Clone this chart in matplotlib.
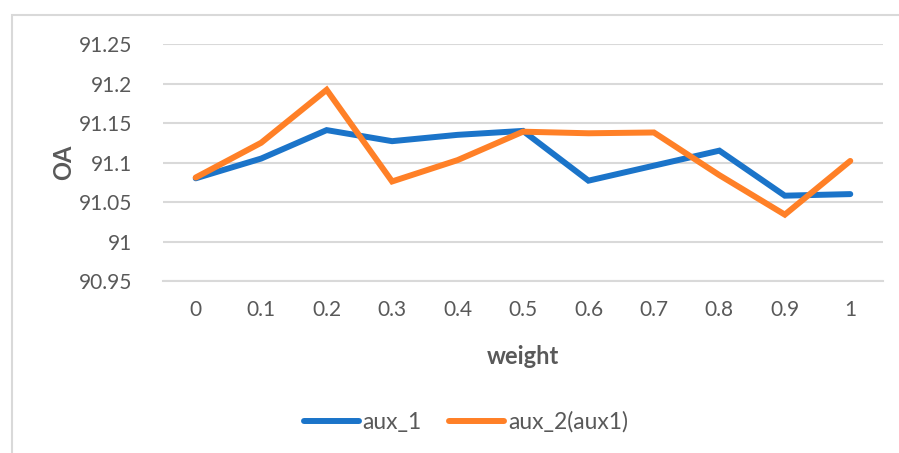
import matplotlib.pyplot as plt
from matplotlib.patches import Rectangle

# weight values on the x axis (categorical)
weights = ["0", "0.1", "0.2", "0.3", "0.4", "0.5", "0.6", "0.7", "0.8", "0.9", "1"]

# overall accuracy per weight
aux_1 = [91.080, 91.105, 91.141, 91.127, 91.135, 91.140, 91.077, 91.096, 91.115, 91.058, 91.060]
aux_2 = [91.081, 91.125, 91.192, 91.076, 91.103, 91.139, 91.137, 91.138, 91.084, 91.034, 91.102]

y_ticks = [90.95, 91.0, 91.05, 91.1, 91.15, 91.2, 91.25]
y_tick_labels = ["90.95", "91", "91.05", "91.1", "91.15", "91.2", "91.25"]

plt.rcParams['font.family'] = ['Lato', 'DejaVu Sans']
text_color = '#595959'
grid_color = '#D9D9D9'

fig = plt.figure(figsize=(8.99, 4.53), dpi=100)

# chart frame
fig.patches.append(Rectangle((11.5 / 899, -0.01), 1.0, (453 - 14.5) / 453 + 0.01,
                             transform=fig.transFigure, fill=False,
                             edgecolor=grid_color, linewidth=1.5))

ax = fig.add_axes([163 / 899, (453 - 281) / 453, 720 / 899, 237 / 453])

x = list(range(len(weights)))
ax.plot(x, aux_1, color='#1B74C9', linewidth=4.3, label='aux_1',
        solid_capstyle='round', solid_joinstyle='miter', zorder=3)
ax.plot(x, aux_2, color='#FF8027', linewidth=4.3, label='aux_2(aux1)',
        solid_capstyle='round', solid_joinstyle='miter', zorder=3)

ax.set_xlim(-0.5, len(weights) - 0.5)
ax.set_ylim(90.95, 91.25)
ax.set_yticks(y_ticks)
ax.set_yticklabels(y_tick_labels)
ax.set_xticks(x)
ax.set_xticklabels(weights)

ax.grid(axis='y', color=grid_color, linewidth=1.5)
ax.set_axisbelow(True)
for side in ['top', 'right', 'left']:
    ax.spines[side].set_visible(False)
ax.spines['bottom'].set_color(grid_color)
ax.spines['bottom'].set_linewidth(1.5)
ax.tick_params(length=0, colors=text_color, labelsize=15)
ax.tick_params(axis='y', pad=22)
ax.tick_params(axis='x', pad=14)

ax.set_xlabel('weight', fontsize=17, fontweight='bold', color=text_color, labelpad=18)
ax.set_ylabel('OA', fontsize=17, fontweight='bold', color=text_color, labelpad=3)

ax.legend(loc='center', bbox_to_anchor=(466 / 899, 1 - 422 / 453),
          bbox_transform=fig.transFigure, ncol=2, frameon=False,
          fontsize=16.5, handlelength=2.4, handletextpad=0.17, columnspacing=1.2,
          labelcolor=text_color)

fig.savefig('out.png', dpi=100, facecolor='white')
